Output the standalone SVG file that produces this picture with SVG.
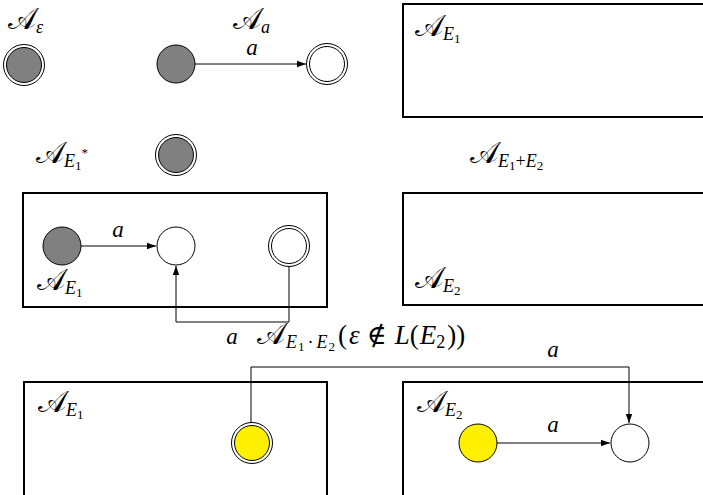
<svg xmlns="http://www.w3.org/2000/svg" width="703" height="495" viewBox="0 0 703 495">
<style>
.box{fill:none;stroke:#000;stroke-width:2}
.st{stroke:#000;stroke-width:1}
.gray{fill:#808080}
.yel{fill:#fff000}
.wht{fill:#fff}
.edge{fill:none;stroke:#000;stroke-width:1}
.t{font-family:"Liberation Serif","DejaVu Serif","DejaVu Sans",serif;font-size:25px;fill:#000}
.A{font-size:30px}
.i{font-style:italic}
.s{font-size:18px}
.ss{font-size:13px}
.b{font-size:27px}
.lbl{font-family:"Liberation Serif","DejaVu Serif",serif;font-style:italic;font-size:23px;text-anchor:middle}
</style>
<defs>
<marker id="arr" markerUnits="userSpaceOnUse" markerWidth="10" markerHeight="8" refX="9" refY="4" orient="auto">
<path d="M0,0.8 L9,4 L0,7.2 Z" fill="#000"/>
</marker>
</defs>

<g id="boxes">
<rect class="box" x="403" y="4" width="310" height="113"/>
<rect class="box" x="23" y="193" width="304" height="114"/>
<rect class="box" x="403" y="193" width="310" height="112"/>
<rect class="box" x="24" y="382" width="303" height="120"/>
<rect class="box" x="403" y="382" width="310" height="120"/>
</g>

<g id="connectors">
<line class="edge" x1="195" y1="64" x2="306" y2="64" marker-end="url(#arr)"/>
<line class="edge" x1="81" y1="246" x2="156" y2="246" marker-end="url(#arr)"/>
<polyline class="edge" points="289,266 289,322 176,322 176,266" marker-end="url(#arr)"/>
<line class="edge" x1="497" y1="443" x2="610" y2="443" marker-end="url(#arr)"/>
<polyline class="edge" points="251,423 251,367 629,367 629,423" marker-end="url(#arr)"/>
</g>

<g id="n-eps"><circle class="st wht" cx="24" cy="65" r="20.5"/><circle class="st gray" cx="24" cy="65" r="17.5"/></g>
<g id="n-a0"><circle class="st gray" cx="176" cy="64" r="19"/></g>
<g id="n-a1"><circle class="st wht" cx="327" cy="64" r="20.5"/><circle class="st wht" cx="327" cy="64" r="17.5"/></g>
<g id="n-star"><circle class="st wht" cx="176" cy="155" r="20.5"/><circle class="st gray" cx="176" cy="155" r="17.5"/></g>
<g id="n-s0"><circle class="st gray" cx="62" cy="246" r="19"/></g>
<g id="n-s1"><circle class="st wht" cx="176" cy="246" r="19"/></g>
<g id="n-s2"><circle class="st wht" cx="289" cy="246" r="20.5"/><circle class="st wht" cx="289" cy="246" r="17.5"/></g>
<g id="n-c1"><circle class="st wht" cx="252" cy="443" r="20.5"/><circle class="st yel" cx="252" cy="443" r="17.5"/></g>
<g id="n-c2"><circle class="st yel" cx="478" cy="443" r="19"/></g>
<g id="n-c3"><circle class="st wht" cx="630" cy="443" r="19"/></g>

<g id="labels">
<text class="t" x="8" y="29"><tspan class="A">𝒜</tspan><tspan class="s i" dy="4">ε</tspan></text>
<text class="t" x="233" y="29"><tspan class="A">𝒜</tspan><tspan class="s i" dy="4">a</tspan></text>
<text class="t" x="415" y="36"><tspan class="A">𝒜</tspan><tspan class="s i" dy="4">E</tspan><tspan class="ss" dy="3">1</tspan></text>
<text class="t" x="36" y="163"><tspan class="A">𝒜</tspan><tspan class="s i" dy="4">E</tspan><tspan class="ss" dy="3">1</tspan><tspan class="ss" dx="0" dy="-13">*</tspan></text>
<text class="t" x="470" y="163"><tspan class="A">𝒜</tspan><tspan class="s i" dy="4">E</tspan><tspan class="ss" dy="3">1</tspan><tspan class="s" dy="-3">+</tspan><tspan class="s i">E</tspan><tspan class="ss" dy="3">2</tspan></text>
<text class="t" x="37" y="290"><tspan class="A">𝒜</tspan><tspan class="s i" dy="4">E</tspan><tspan class="ss" dy="3">1</tspan></text>
<text class="t" x="415" y="288"><tspan class="A">𝒜</tspan><tspan class="s i" dy="4">E</tspan><tspan class="ss" dy="3">2</tspan></text>
<text class="t" x="257" y="344"><tspan class="A">𝒜</tspan><tspan class="s i" dx="1" dy="4">E</tspan><tspan class="ss" dx="1" dy="3">1</tspan><tspan class="s" dx="3" dy="-3">·</tspan><tspan class="s i" dx="3">E</tspan><tspan class="ss" dx="1" dy="3">2</tspan><tspan class="b" dx="3" dy="-7">(</tspan><tspan class="b i" dx="2">ε</tspan><tspan class="b" dx="7">∉</tspan><tspan class="b i" dx="8">L</tspan><tspan class="b">(</tspan><tspan class="b i" dx="1">E</tspan><tspan class="s" dy="4">2</tspan><tspan class="b" dx="2" dy="-4">))</tspan></text>
<text class="t" x="38" y="412"><tspan class="A">𝒜</tspan><tspan class="s i" dy="4">E</tspan><tspan class="ss" dy="3">1</tspan></text>
<text class="t" x="417" y="412"><tspan class="A">𝒜</tspan><tspan class="s i" dy="4">E</tspan><tspan class="ss" dy="3">2</tspan></text>
<text class="lbl" x="252" y="55">a</text>
<text class="lbl" x="118" y="237">a</text>
<text class="lbl" x="232" y="344">a</text>
<text class="lbl" x="553" y="357">a</text>
<text class="lbl" x="553" y="432">a</text>
</g>
</svg>
